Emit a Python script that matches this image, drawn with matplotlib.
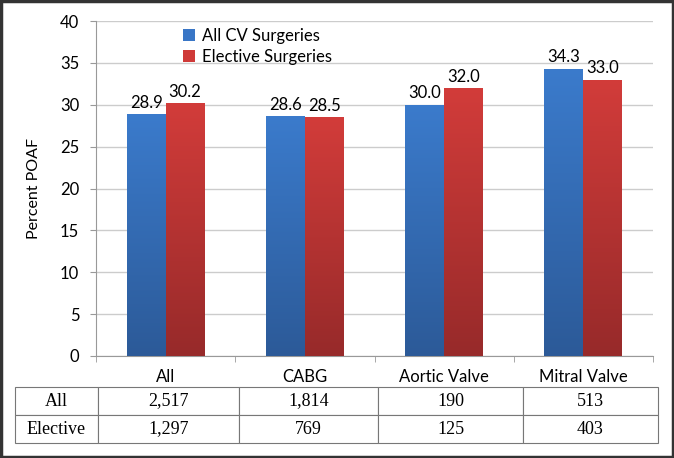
import matplotlib.pyplot as plt
import numpy as np
from matplotlib.colors import LinearSegmentedColormap

# data
categories = ["All", "CABG", "Aortic Valve", "Mitral Valve"]
all_cv = [28.9, 28.6, 30.0, 34.3]
elective = [30.2, 28.5, 32.0, 33.0]
series_names = ["All CV Surgeries", "Elective Surgeries"]
n_all = ["2,517", "1,814", "190", "513"]
n_elective = ["1,297", "769", "125", "403"]
row_labels = ["All", "Elective"]

sans = "Lato"
serif = "Liberation Serif"

fig = plt.figure(figsize=(6.74, 4.58), dpi=100)
ax = fig.add_axes([96 / 674, 1 - 356 / 458, 557 / 674, 335 / 458])

x = np.arange(len(categories))
w = 0.28

blue_cmap = LinearSegmentedColormap.from_list("b", ["#2c5a98", "#3b7bcc"])
red_cmap = LinearSegmentedColormap.from_list("r", ["#972a2a", "#d23c3a"])

bars1 = ax.bar(x - w / 2, all_cv, w, color="#3976c6", label=series_names[0], zorder=2)
bars2 = ax.bar(x + w / 2, elective, w, color="#cf3a38", label=series_names[1], zorder=2)

# gradient fill clipped to each bar
grad = np.linspace(0, 1, 256).reshape(-1, 1)
for bars, cmap in [(bars1, blue_cmap), (bars2, red_cmap)]:
    for b in bars:
        x0, y0 = b.get_x(), b.get_y()
        x1, y1 = x0 + b.get_width(), y0 + b.get_height()
        im = ax.imshow(grad, cmap=cmap, extent=[x0, x1, y0, y1], origin="lower",
                       aspect="auto", zorder=3)
        im.set_clip_path(b)

for bars, vals in [(bars1, all_cv), (bars2, elective)]:
    for b, v in zip(bars, vals):
        ax.text(b.get_x() + b.get_width() / 2, v + 0.4, f"{v:.1f}",
                ha="center", va="bottom", fontsize=12, family=sans, zorder=4)

ax.set_xlim(-0.5, len(categories) - 0.5)
ax.set_ylim(0, 40)
ax.set_yticks(range(0, 41, 5))
ax.set_xticks(x)
ax.set_xticklabels(categories, fontsize=12, family=sans)
ax.set_xticks(np.arange(-0.5, len(categories), 1), minor=True)
ax.tick_params(axis="x", which="major", length=0, pad=9)
ax.tick_params(axis="x", which="minor", length=4, color="#999999", direction="out")
ax.tick_params(axis="y", labelsize=12, length=4, color="#999999", pad=8)
for lbl in ax.get_yticklabels():
    lbl.set_family(sans)
ax.grid(axis="y", color="#cccccc", linewidth=1, zorder=0)
ax.set_axisbelow(True)
for s in ["top", "right"]:
    ax.spines[s].set_visible(False)
for s in ["left", "bottom"]:
    ax.spines[s].set_color("#999999")
ax.set_ylabel("Percent POAF", fontsize=11.5, family=sans, labelpad=14)

leg = ax.legend(loc="upper left", bbox_to_anchor=(0.13, 1.025), frameon=False,
                handlelength=0.7, handleheight=0.7, handletextpad=0.4,
                labelspacing=0.3, prop={"family": sans, "size": 12})

# table under the chart
cells = [[row_labels[0]] + n_all, [row_labels[1]] + n_elective]
tbl = ax.table(cellText=cells, cellLoc="center",
               colWidths=[83, 141, 139, 145, 135],
               bbox=[(15 - 96) / 557, -(443 - 356) / 335, 643 / 557, 56 / 335])
tbl.auto_set_font_size(False)
for (r, c), cell in tbl.get_celld().items():
    cell.set_edgecolor("#777777")
    cell.set_linewidth(0.8)
    cell.get_text().set_fontsize(13)
    cell.get_text().set_family(serif)

# outer frame
fig.patches.append(plt.Rectangle((0.002, 0.003), 0.996, 0.994, transform=fig.transFigure,
                                 fill=False, edgecolor="#333333", linewidth=2.5))

fig.savefig("out.png", dpi=100)
